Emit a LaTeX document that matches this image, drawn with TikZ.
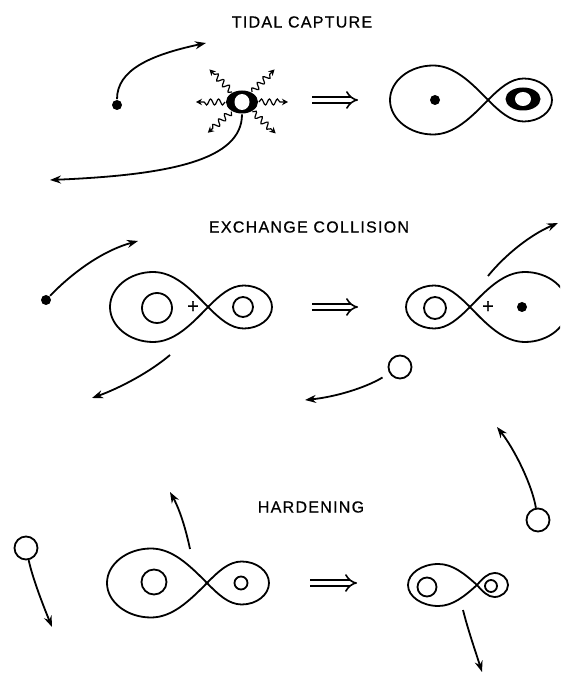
\documentclass[tikz,border=0pt]{standalone}
\usepackage{fontspec}
\usetikzlibrary{arrows.meta,shapes.geometric,decorations.pathmorphing}
\newfontfamily\headfont[LetterSpace=8,FakeBold=0.6]{Liberation Sans}

% figure-eight of the two Roche lobes: crossing point, left length, left half height,
% right length, right half height
\newcommand{\rochelobes}[5]{%
	\draw[shift={#1}] (0,0) .. controls (-0.18*#2,0.53*#3) and (-0.35*#2,#3) .. (-0.56*#2,#3)
		.. controls (-0.8*#2,#3) and (-#2,0.55*#3) .. (-#2,0)
		.. controls (-#2,-0.55*#3) and (-0.8*#2,-#3) .. (-0.56*#2,-#3)
		.. controls (-0.35*#2,-#3) and (-0.18*#2,-0.53*#3) .. (0,0)
		.. controls (0.18*#4,0.53*#5) and (0.35*#4,#5) .. (0.56*#4,#5)
		.. controls (0.8*#4,#5) and (#4,0.55*#5) .. (#4,0)
		.. controls (#4,-0.55*#5) and (0.8*#4,-#5) .. (0.56*#4,-#5)
		.. controls (0.35*#4,-#5) and (0.18*#4,-0.53*#5) .. (0,0);}

\begin{document}
\begin{tikzpicture}[x=1pt,y=1pt,line width=1.8pt,
	dot node/.style = {circle,fill,inner sep=0pt,minimum size=10pt},
	star node/.style = {circle,draw,inner sep=0pt},
	ring node/.style = {ellipse,fill,inner sep=0pt},
	plus node/.style = {font=\headfont\fontsize{20}{20}\selectfont,inner sep=0pt},
	track/.style = {-{Stealth[length=11pt,width=8pt]}},
	wave/.style = {line width=1.2pt,-{Stealth[open,length=6pt,width=6.5pt]},decorate,
		decoration={snake,amplitude=3pt,segment length=8pt,post length=6pt}},
	implies/.style = {double,double distance=4.5pt,line width=1.6pt,-Implies},
	heading/.style = {font=\headfont\fontsize{16}{19}\selectfont}]

	\clip (0,0) rectangle (560,675);

	% tidal capture
	\node[heading] (t0) at (302,653) {TIDAL CAPTURE};
	\node[dot node] (t1) at (117,570) {};
	\coordinate (t2) at (206,632);
	\node[ring node,minimum width=32pt,minimum height=23pt] (t3) at (242,573) {};
	\fill[white] (t3.center) ellipse [x radius=7.5,y radius=8];
	\coordinate (t4) at (50,495);
	\coordinate (t5) at (312,575);
	\coordinate (t6) at (358,575);
	\rochelobes{(488,575)}{98}{34.5}{64}{21.5}
	\node[dot node] (t7) at (435,575) {};
	\node[ring node,minimum width=35pt,minimum height=23pt] (t8) at (523,576) {};
	\fill[white] (t8.center) ellipse [x radius=8,y radius=7];
	\foreach \a [count=\i] in {0,45,135,180,222,317}
		\path (t3) ++(\a:46) coordinate (w\i);

	\draw[track] (t1) .. controls (117,605) and (150,620) .. (t2);
	\draw[track] (t3) .. controls (242,515) and (170,500) .. (t4);
	\foreach \i in {1,...,6}
		\draw[wave] (t3) -- (w\i);
	\draw[implies] (t5) -- (t6);

	% exchange collision
	\node[heading] (e0) at (309,448) {EXCHANGE COLLISION};
	\node[dot node] (e1) at (46,375) {};
	\coordinate (e2) at (138,434);
	\rochelobes{(208,368)}{98}{35}{64}{21.5}
	\node[star node,minimum size=30pt] (e3) at (157,367) {};
	\node[star node,minimum size=20pt] (e4) at (243,368) {};
	\node[plus node] (e5) at (193,368) {+};
	\coordinate (e6) at (170,320);
	\coordinate (e7) at (92,277);
	\coordinate (e8) at (312,368);
	\coordinate (e9) at (358,368);
	\rochelobes{(470,368)}{64}{21.5}{98}{35}
	\node[star node,minimum size=22pt] (e10) at (435,367) {};
	\node[plus node] (e11) at (488,368) {+};
	\node[dot node] (e12) at (522,368) {};
	\coordinate (e13) at (488,399);
	\coordinate (e14) at (558,452);
	\node[star node,minimum size=23pt] (e15) at (400,308) {};
	\coordinate (e16) at (305,275);

	\draw[track] (e1) .. controls (75,405) and (105,425) .. (e2);
	\draw[track] (e6) .. controls (150,303) and (120,287) .. (e7);
	\draw[implies] (e8) -- (e9);
	\draw[track] (e13) .. controls (505,420) and (530,440) .. (e14);
	\draw[track,shorten <=8pt] (e15) .. controls (365,287) and (335,278) .. (e16);

	% hardening
	\node[heading] (h0) at (311,168) {HARDENING};
	\node[star node,minimum size=23pt] (h1) at (26,127) {};
	\coordinate (h2) at (52,48);
	\rochelobes{(207,92)}{100}{34.5}{62}{21.5}
	\node[star node,minimum size=25pt] (h3) at (154,93) {};
	\node[star node,minimum size=13pt] (h4) at (241,92) {};
	\coordinate (h5) at (190,126);
	\coordinate (h6) at (170,183);
	\coordinate (h7) at (310,92);
	\coordinate (h8) at (357,92);
	\rochelobes{(477,90)}{69}{21}{31}{12}
	\node[star node,minimum size=19pt] (h9) at (427,88) {};
	\node[star node,minimum size=12pt] (h10) at (491,89) {};
	\coordinate (h11) at (463,65);
	\coordinate (h12) at (482,3);
	\node[star node,minimum size=23pt] (h13) at (538,155) {};
	\coordinate (h14) at (497,248);

	\draw[track] (h1) .. controls (33,95) and (45,65) .. (h2);
	\draw[track] (h5) .. controls (186,145) and (180,165) .. (h6);
	\draw[implies] (h7) -- (h8);
	\draw[track] (h11) .. controls (468,45) and (476,22) .. (h12);
	\draw[track] (h13) .. controls (532,190) and (515,225) .. (h14);
\end{tikzpicture}
\end{document}
